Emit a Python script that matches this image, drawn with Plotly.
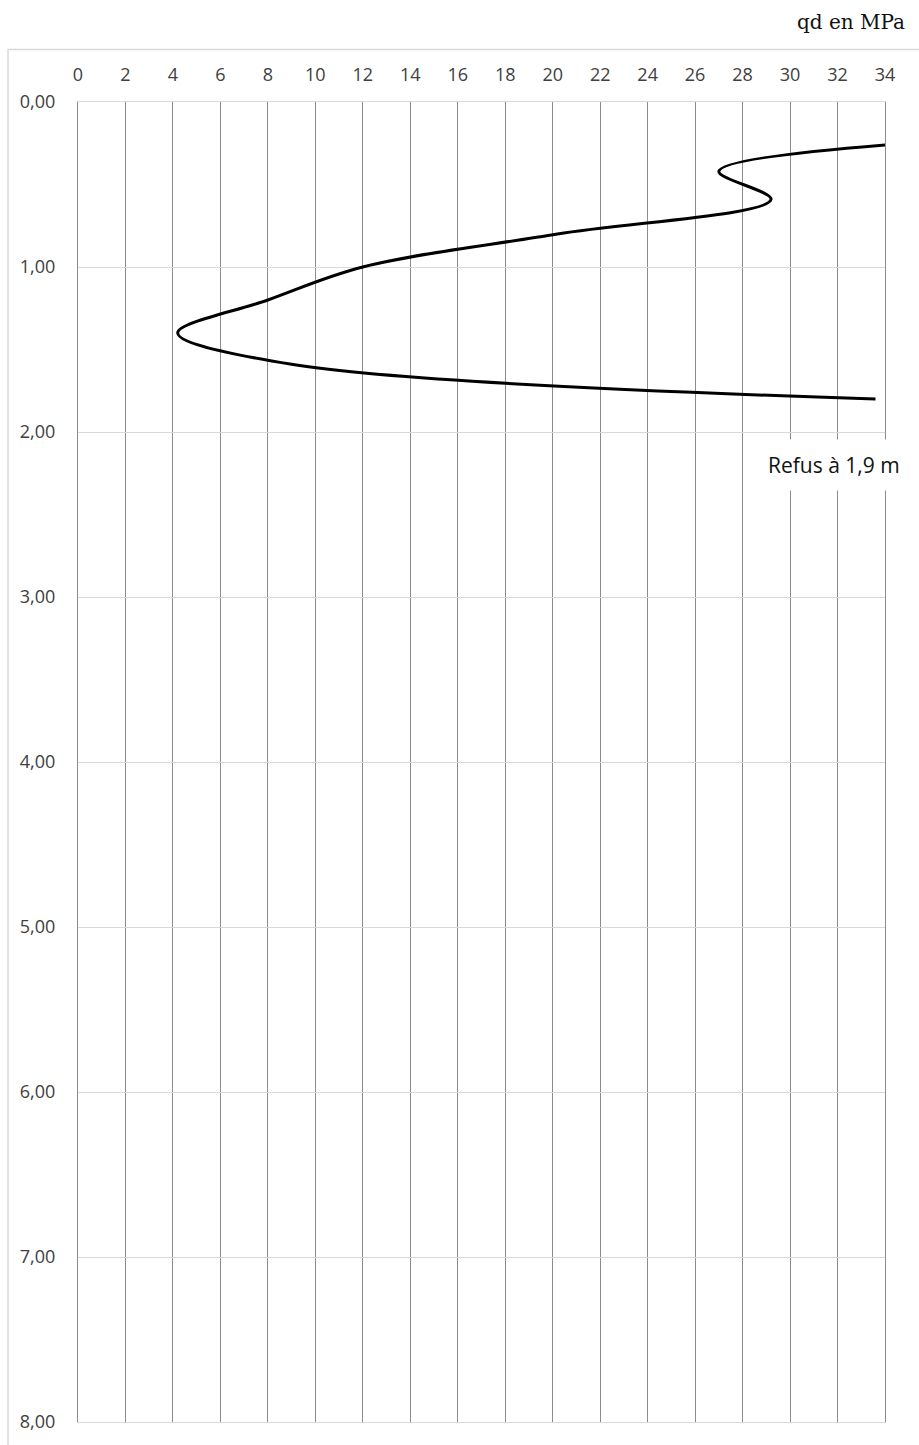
import plotly.graph_objects as go

# Cone penetration profile: tip resistance qd (MPa) versus depth (m)
depth_m = [0.26, 0.42, 0.59, 0.80, 1.00, 1.20, 1.40, 1.59, 1.80]
qd_mpa = [34.0, 27.0, 29.2, 20.2, 12.0, 8.0, 4.2, 9.0, 33.6]

x_ticks = list(range(0, 35, 2))
depth_ticks = [0, 1, 2, 3, 4, 5, 6, 7, 8]

refusal_label = "Refus à 1,9 m"
axis_title = "qd en MPa"

tick_font = dict(family="Open Sans, sans-serif", size=18, color="#404040")

fig = go.Figure()
fig.add_trace(go.Scatter(
    x=qd_mpa, y=depth_m,
    mode="lines",
    line=dict(color="black", width=3, shape="spline", smoothing=1.0),
    showlegend=False,
    hoverinfo="x+y",
))

fig.update_layout(
    width=919, height=1445,
    margin=dict(l=78, r=34, t=102, b=20),
    paper_bgcolor="white", plot_bgcolor="white",
    separators=", ",
    xaxis=dict(
        side="top", range=[0, 34], tickvals=x_ticks,
        showgrid=True, gridcolor="#8c8c8c", gridwidth=1.3,
        zeroline=False, showline=True, linecolor="#d9d9d9", linewidth=1,
        mirror=True, ticks="",
        ticklabelstandoff=13, tickfont=tick_font,
    ),
    yaxis=dict(
        range=[8, 0], tickvals=depth_ticks, tickformat=".2f",
        showgrid=True, gridcolor="#d9d9d9", gridwidth=1,
        zeroline=False, showline=True, linecolor="#8c8c8c", linewidth=1.3,
        mirror=True, ticks="",
        ticklabelstandoff=18, tickfont=tick_font,
    ),
    shapes=[dict(
        type="rect", xref="paper", yref="paper",
        x0=-0.0867, x1=1.06, y0=-0.03, y1=1.0397,
        line=dict(color="#d9d9d9", width=1.5), fillcolor="rgba(0,0,0,0)",
        layer="below",
    )],
    annotations=[
        dict(
            x=31.85, y=2.2, xref="x", yref="y", text=refusal_label,
            showarrow=False, bgcolor="white", borderpad=11,
            font=dict(family="Open Sans, sans-serif", size=21, color="#111111"),
        ),
        dict(
            x=(907 - 78) / (919 - 78 - 34), y=(1445 - 20 - 22) / (1445 - 102 - 20),
            xref="paper", yref="paper", text=axis_title,
            showarrow=False, xanchor="right", yanchor="middle",
            font=dict(family="DejaVu Serif, serif", size=20, color="#111111"),
        ),
    ],
)

fig.write_html("out.html")
